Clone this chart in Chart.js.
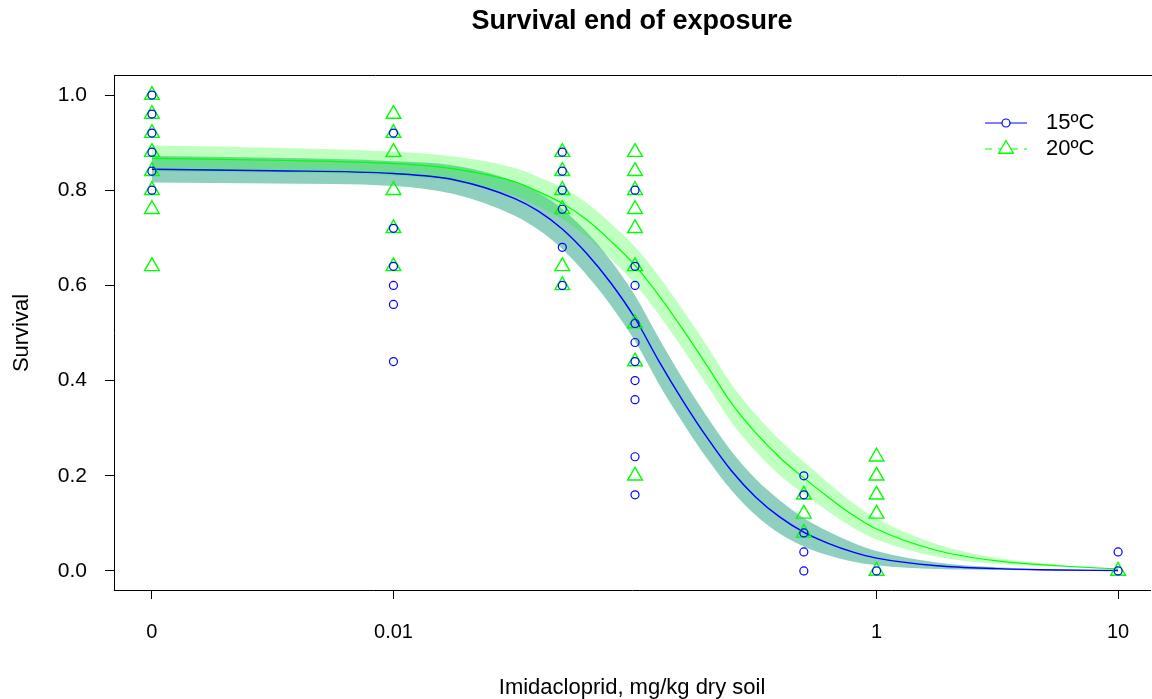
<!DOCTYPE html>
<html>
<head>
<meta charset="utf-8">
<title>Survival end of exposure</title>
<script src="https://cdn.jsdelivr.net/npm/chart.js@4"></script>
<style>
  html, body { margin: 0; padding: 0; background: #fff; overflow: hidden; }
  canvas { display: block; }
</style>
</head>
<body>
<canvas id="survival-chart" width="1160" height="699"></canvas>
<script>
// doses in mg/kg; the control (0) is placed at 0.001 on the log axis
const doses = [0, 0.01, 0.05, 0.1, 0.5, 1, 10];
const zeroPos = 0.001;

// observed survival at each dose
const obs15 = [
	[1.0, 0.96, 0.92, 0.88, 0.84, 0.80],
	[0.92, 0.72, 0.64, 0.60, 0.56, 0.44],
	[0.88, 0.84, 0.80, 0.76, 0.68, 0.60],
	[0.80, 0.64, 0.60, 0.52, 0.48, 0.44, 0.40, 0.36, 0.24, 0.16],
	[0.20, 0.16, 0.08, 0.04, 0.0],
	[0.0],
	[0.04, 0.0]
];
const obs20 = [
	[1.0, 0.96, 0.92, 0.88, 0.84, 0.80, 0.76, 0.64],
	[0.96, 0.92, 0.88, 0.80, 0.72, 0.64],
	[0.88, 0.84, 0.80, 0.76, 0.64, 0.60],
	[0.88, 0.84, 0.80, 0.76, 0.72, 0.64, 0.52, 0.44, 0.20],
	[0.16, 0.12, 0.08],
	[0.24, 0.20, 0.16, 0.12, 0.0],
	[0.0]
];

// fitted curves and bands (log10 dose)
const curveLogDose = [-3, -2.5, -2, -1.75, -1.5, -1.4, -1.3, -1.2, -1.1, -1.0, -0.9, -0.8, -0.7, -0.6, -0.5, -0.4, -0.3, -0.2, -0.1, 0, 0.25, 0.5, 0.75, 1];
const fit15 = [0.844, 0.841, 0.835, 0.822, 0.783, 0.756, 0.718, 0.667, 0.605, 0.531, 0.440, 0.356, 0.279, 0.210, 0.155, 0.113, 0.081, 0.058, 0.040, 0.027, 0.011, 0.005, 0.002, 0.001];
const upper15 = [0.872, 0.868, 0.861, 0.852, 0.819, 0.795, 0.760, 0.712, 0.652, 0.579, 0.488, 0.402, 0.323, 0.251, 0.193, 0.148, 0.111, 0.083, 0.060, 0.042, 0.018, 0.008, 0.003, 0.001];
const lower15 = [0.816, 0.814, 0.809, 0.792, 0.747, 0.717, 0.676, 0.622, 0.558, 0.483, 0.392, 0.310, 0.235, 0.169, 0.117, 0.078, 0.051, 0.033, 0.020, 0.012, 0.004, 0.002, 0.001, 0.001];
const fit20 = [0.867, 0.863, 0.856, 0.845, 0.818, 0.797, 0.772, 0.738, 0.693, 0.642, 0.578, 0.506, 0.430, 0.352, 0.290, 0.238, 0.195, 0.155, 0.118, 0.088, 0.043, 0.021, 0.011, 0.004];
const upper20 = [0.894, 0.889, 0.881, 0.871, 0.847, 0.828, 0.805, 0.773, 0.730, 0.681, 0.618, 0.547, 0.471, 0.392, 0.329, 0.275, 0.229, 0.185, 0.144, 0.110, 0.056, 0.027, 0.013, 0.005];
const lower20 = [0.840, 0.837, 0.831, 0.819, 0.789, 0.766, 0.739, 0.703, 0.656, 0.603, 0.538, 0.465, 0.389, 0.312, 0.251, 0.201, 0.161, 0.125, 0.092, 0.066, 0.030, 0.015, 0.009, 0.003];

// axis ticks
const xTicks = [0.001, 0.01, 1, 10];
const xTickLabels = ["0", "0.01", "1", "10"];
const yTicks = [0, 0.2, 0.4, 0.6, 0.8, 1.0];

const FONT = "'Liberation Sans', Arial, sans-serif";

function points(obs) {
	const out = [];
	doses.forEach((d, i) => {
		obs[i].forEach(v => out.push({ x: d === 0 ? zeroPos : d, y: v }));
	});
	return out;
}

function curve(values) {
	return curveLogDose.map((l, i) => ({ x: Math.pow(10, l), y: values[i] }));
}

// top edge of R's box(); the right edge falls just outside the picture
const boxPlugin = {
	id: "rBox",
	afterDraw(chart) {
		const { ctx, chartArea: a } = chart;
		ctx.save();
		ctx.strokeStyle = "#000";
		ctx.lineWidth = 1;
		ctx.beginPath();
		ctx.moveTo(a.left, Math.round(a.top) - 0.5);
		ctx.lineTo(chart.width, Math.round(a.top) - 0.5);
		ctx.stroke();
		ctx.restore();
	}
};

// R style legend: line with marker in the middle
const legendPlugin = {
	id: "rLegend",
	afterDraw(chart) {
		const ctx = chart.ctx;
		const x0 = 985, x1 = 1027, tx = 1046;
		const rows = [
			{ y: 123, color: "blue", dash: [], marker: "circle", text: "15ºC" },
			{ y: 149, color: "#00FF00", dash: [7, 6], marker: "triangle", text: "20ºC" }
		];
		ctx.save();
		rows.forEach(r => {
			ctx.strokeStyle = r.color;
			ctx.lineWidth = 1.2;
			ctx.setLineDash(r.dash);
			ctx.beginPath();
			ctx.moveTo(x0, r.y);
			ctx.lineTo(x1, r.y);
			ctx.stroke();
			ctx.setLineDash([]);
			const cx = (x0 + x1) / 2;
			ctx.beginPath();
			ctx.fillStyle = "#fff";
			if (r.marker === "circle") {
				ctx.arc(cx, r.y, 4, 0, Math.PI * 2);
			} else {
				const rad = 8.5;
				ctx.moveTo(cx, r.y - rad);
				ctx.lineTo(cx + rad * 0.866, r.y + rad / 2);
				ctx.lineTo(cx - rad * 0.866, r.y + rad / 2);
				ctx.closePath();
				ctx.lineWidth = 1.3;
			}
			ctx.fill();
			ctx.stroke();
			ctx.fillStyle = "#000";
			ctx.font = "22px " + FONT;
			ctx.textAlign = "left";
			ctx.textBaseline = "middle";
			ctx.fillText(r.text, tx, r.y);
		});
		ctx.restore();
	}
};

const ctx = document.getElementById("survival-chart");

const bandLine = { borderWidth: 0, borderColor: "rgba(0,0,0,0)", pointRadius: 0, cubicInterpolationMode: "monotone" };

new Chart(ctx, {
	type: "line",
	data: {
		datasets: [
			{
				label: "15ºC obs",
				data: points(obs15),
				showLine: false,
				pointStyle: "circle",
				pointRadius: 4,
				pointBorderWidth: 1.2,
				pointBorderColor: "blue",
				pointBackgroundColor: "rgba(0,0,0,0)",
				order: 0
			},
			{
				label: "20ºC obs",
				data: points(obs20),
				showLine: false,
				pointStyle: "triangle",
				pointRadius: 8.5,
				pointBorderWidth: 1.4,
				pointBorderColor: "#00FF00",
				pointBackgroundColor: "rgba(0,0,0,0)",
				order: 0
			},
			{
				label: "15ºC fit",
				data: curve(fit15),
				borderColor: "blue",
				borderWidth: 1.4,
				pointRadius: 0,
				cubicInterpolationMode: "monotone",
				fill: false,
				order: 1
			},
			{
				label: "20ºC fit",
				data: curve(fit20),
				borderColor: "#00FF00",
				borderWidth: 1.2,
				pointRadius: 0,
				cubicInterpolationMode: "monotone",
				fill: false,
				order: 1
			},
			{
				label: "20ºC upper",
				data: curve(upper20),
				...bandLine,
				fill: "+1",
				backgroundColor: "rgba(0,255,0,0.25)",
				order: 2
			},
			{
				label: "20ºC lower",
				data: curve(lower20),
				...bandLine,
				fill: false,
				order: 2
			},
			{
				label: "15ºC upper",
				data: curve(upper15),
				...bandLine,
				fill: "+1",
				backgroundColor: "#8ECFBF",
				order: 3
			},
			{
				label: "15ºC lower",
				data: curve(lower15),
				...bandLine,
				fill: false,
				order: 3
			}
		]
	},
	options: {
		responsive: false,
		animation: false,
		events: [],
		layout: { padding: { left: 0, right: 2, top: 0, bottom: 0 } },
		plugins: {
			legend: { display: false },
			tooltip: { enabled: false },
			title: {
				display: true,
				fullSize: false,
				text: "Survival end of exposure",
				color: "#000",
				font: { family: FONT, size: 27, weight: "bold", lineHeight: 1 },
				padding: { top: 8.5, bottom: 40.5 }
			}
		},
		scales: {
			x: {
				type: "logarithmic",
				min: Math.pow(10, -3.157),
				max: Math.pow(10, 1.1325),
				afterFit: s => { s.height = 109; },
				afterBuildTicks: s => { s.ticks = xTicks.map(v => ({ value: v })); },
				grid: { drawOnChartArea: false, drawTicks: true, tickLength: 9, color: "#000", lineWidth: 1 },
				border: { display: true, color: "#000", width: 1 },
				ticks: {
					autoSkip: false,
					maxRotation: 0,
					padding: 21,
					color: "#000",
					font: { family: FONT, size: 20, lineHeight: 1.2 },
					callback: v => {
						const i = xTicks.findIndex(t => Math.abs(t - v) / t < 1e-6);
						return i >= 0 ? xTickLabels[i] : "";
					}
				},
				title: {
					display: true,
					text: "Imidacloprid, mg/kg dry soil",
					color: "#000",
					font: { family: FONT, size: 22, lineHeight: 1 },
					padding: { top: 0, bottom: 0 }
				}
			},
			y: {
				type: "linear",
				min: -0.04,
				max: 1.04,
				afterFit: s => { s.width = 114; },
				afterBuildTicks: s => { s.ticks = yTicks.map(v => ({ value: v })); },
				grid: { drawOnChartArea: false, drawTicks: true, tickLength: 9, color: "#000", lineWidth: 1 },
				border: { display: true, color: "#000", width: 1 },
				ticks: {
					padding: 18,
					color: "#000",
					font: { family: FONT, size: 21 },
					callback: v => v.toFixed(1)
				},
				title: {
					display: true,
					text: "Survival",
					color: "#000",
					font: { family: FONT, size: 22, lineHeight: 1 },
					padding: { top: 11, bottom: 0 }
				}
			}
		}
	},
	plugins: [boxPlugin, legendPlugin]
});
</script>
</body>
</html>
